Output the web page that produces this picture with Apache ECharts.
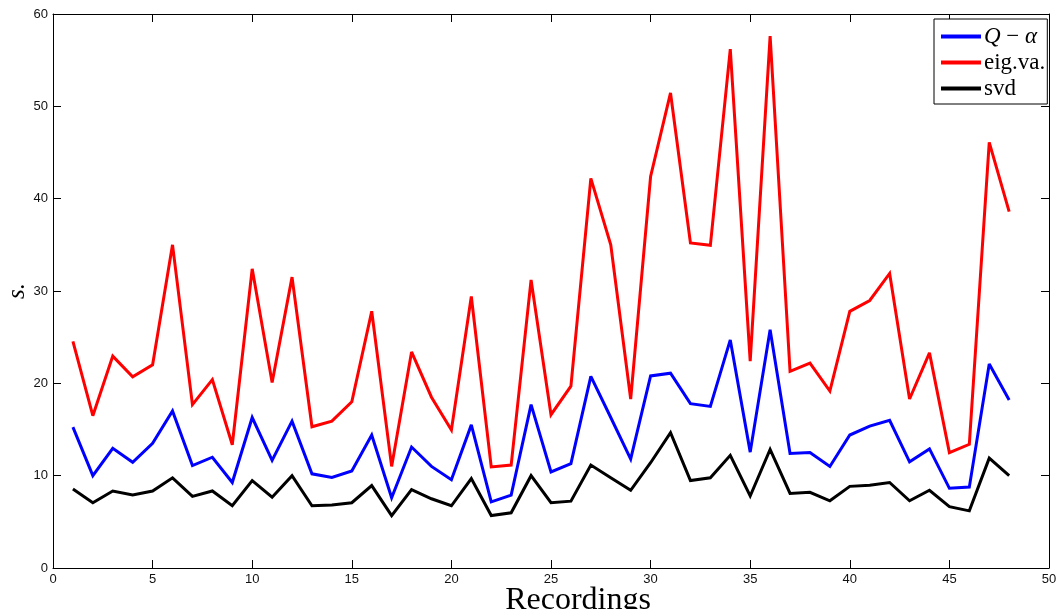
<!DOCTYPE html>
<html>
<head>
<meta charset="utf-8">
<script src="https://cdn.jsdelivr.net/npm/echarts@6/dist/echarts.min.js"></script>
<style>
  html, body { margin: 0; padding: 0; background: #fff; }
  #chart { width: 1056px; height: 609px; }
</style>
</head>
<body>
<div id="chart"></div>
<script>
// Recording numbers (x axis)
const recordings = [1,2,3,4,5,6,7,8,9,10,11,12,13,14,15,16,17,18,19,20,21,22,23,24,
  25,26,27,28,29,30,31,32,33,34,35,36,37,38,39,40,41,42,43,44,45,46,47,48];

// Q − α method
const qAlpha = [15.25,10.0,12.97,11.45,13.5,17.0,11.1,12.0,9.26,16.3,11.66,15.9,10.2,9.8,10.5,
  14.4,7.6,13.1,11.0,9.56,15.5,7.16,7.9,17.7,10.4,11.3,20.75,16.3,11.8,20.8,21.1,17.8,
  17.5,24.7,12.55,25.8,12.4,12.5,11.0,14.4,15.37,16.0,11.5,12.9,8.63,8.76,22.1,18.2];

// Eigenvalue method
const eigVa = [24.55,16.5,22.95,20.7,22.0,35.0,17.7,20.4,13.35,32.4,20.1,31.5,15.3,15.9,18.0,
  27.8,11.0,23.4,18.5,14.95,29.4,10.95,11.15,31.2,16.6,19.7,42.2,35.0,18.3,42.4,51.45,35.2,
  34.95,56.2,22.4,57.6,21.3,22.2,19.16,27.8,28.97,31.9,18.3,23.3,12.5,13.4,46.1,38.6];

// SVD method
const svd = [8.55,7.07,8.34,7.9,8.34,9.77,7.75,8.34,6.74,9.47,7.66,10.0,6.74,6.82,7.07,
  8.93,5.68,8.5,7.5,6.74,9.68,5.68,5.98,10.0,7.07,7.24,11.15,9.77,8.42,11.4,14.65,9.47,
  9.77,12.2,7.8,12.85,8.08,8.2,7.28,8.84,8.97,9.26,7.28,8.42,6.65,6.19,11.9,10.0];

const seriesNames = ['Q-α', 'eig.va.', 'svd'];
const seriesColors = ['#0000ff', '#ff0000', '#000000'];
const seriesValues = [qAlpha, eigVa, svd];

const tickFont = { fontFamily: 'Liberation Sans, Arial, sans-serif', fontSize: 13, color: '#111' };
const serif = 'Liberation Serif, "DejaVu Serif", serif';

const chart = echarts.init(document.getElementById('chart'), null, { renderer: 'canvas' });

const axisLine = { show: true, onZero: false, lineStyle: { color: '#000', width: 1 } };
const tickIn = { show: true, inside: true, length: 8, lineStyle: { color: '#000', width: 1 } };

chart.setOption({
  animation: false,
  backgroundColor: '#fff',
  grid: { left: 53, right: 7, top: 14, bottom: 41, containLabel: false, outerBoundsMode: 'none' },
  xAxis: [
    {
      type: 'value', min: 0, max: 50, interval: 5, position: 'bottom',
      axisLine, axisTick: tickIn, splitLine: { show: false },
      axisLabel: Object.assign({ margin: 5 }, tickFont),
      name: 'Recordings', nameLocation: 'middle', nameGap: 17, nameMoveOverlap: false,
      nameTextStyle: { fontFamily: serif, fontSize: 32, color: '#000', padding: [0, 0, 0, 54], verticalAlign: 'top' }
    },
    {
      type: 'value', min: 0, max: 50, interval: 5, position: 'top',
      axisLine, axisTick: tickIn, axisLabel: { show: false }, splitLine: { show: false }
    }
  ],
  yAxis: [
    {
      type: 'value', min: 0, max: 60, interval: 10, position: 'left',
      axisLine, axisTick: tickIn, splitLine: { show: false },
      axisLabel: Object.assign({ margin: 5 }, tickFont),
      name: 's.', nameLocation: 'middle', nameGap: 23, nameMoveOverlap: false,
      nameTextStyle: { fontFamily: serif, fontStyle: 'italic', fontSize: 25, color: '#000', padding: [0, 0, 0, 0] }
    },
    {
      type: 'value', min: 0, max: 60, interval: 10, position: 'right',
      axisLine, axisTick: tickIn, axisLabel: { show: false }, splitLine: { show: false }
    }
  ],
  legend: {
    data: seriesNames,
    orient: 'vertical',
    left: 934, top: 19,
    backgroundColor: '#fff',
    borderColor: '#000', borderWidth: 1, borderRadius: 0,
    padding: [6, 2, 4, 7],
    itemGap: 3,
    itemWidth: 40, itemHeight: 4,
    icon: 'rect',
    formatter: function (name) {
      if (name === 'Q-α') return '{i|Q} − {i|α}';
      return name;
    },
    textStyle: {
      fontFamily: serif, fontSize: 23, color: '#000', padding: [0, 0, 0, -2],
      rich: { i: { fontFamily: serif, fontStyle: 'italic', fontSize: 23, color: '#000' } }
    }
  },
  series: seriesNames.map((name, k) => ({
    name,
    type: 'line',
    xAxisIndex: 0, yAxisIndex: 0,
    data: recordings.map((r, i) => [r, seriesValues[k][i]]),
    symbol: 'none',
    lineStyle: { color: seriesColors[k], width: 3, join: 'miter', miterLimit: 3 },
    itemStyle: { color: seriesColors[k] },
    z: 3 - k
  }))
});
</script>
</body>
</html>
